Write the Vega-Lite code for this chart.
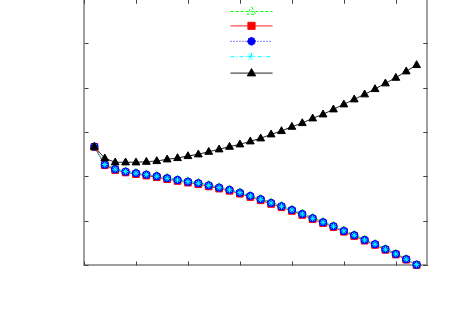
{
  "$schema": "https://vega.github.io/schema/vega-lite/v6.json",
  "width": 343,
  "height": 266,
  "autosize": {"type": "none"},
  "padding": {"left": 84, "right": 23, "top": -1, "bottom": 49},
  "background": "white",
  "config": {
    "view": {"stroke": "#808080", "strokeWidth": 1.5},
    "axis": {"grid": false, "labels": false, "title": null, "domain": false, "tickSize": -4, "tickColor": "#444", "tickWidth": 1}
  },
  "data": {"values": [
    {"x":1,"s":"s1","y":2.675},{"x":2,"s":"s1","y":2.275},{"x":3,"s":"s1","y":2.172},{"x":4,"s":"s1","y":2.118},{"x":5,"s":"s1","y":2.082},{"x":6,"s":"s1","y":2.05},{"x":7,"s":"s1","y":2.014},{"x":8,"s":"s1","y":1.969},{"x":9,"s":"s1","y":1.93},{"x":10,"s":"s1","y":1.892},{"x":11,"s":"s1","y":1.856},{"x":12,"s":"s1","y":1.808},{"x":13,"s":"s1","y":1.758},{"x":14,"s":"s1","y":1.708},{"x":15,"s":"s1","y":1.643},{"x":16,"s":"s1","y":1.568},{"x":17,"s":"s1","y":1.495},{"x":18,"s":"s1","y":1.412},{"x":19,"s":"s1","y":1.337},{"x":20,"s":"s1","y":1.254},{"x":21,"s":"s1","y":1.163},{"x":22,"s":"s1","y":1.066},{"x":23,"s":"s1","y":0.976},{"x":24,"s":"s1","y":0.886},{"x":25,"s":"s1","y":0.78},{"x":26,"s":"s1","y":0.683},{"x":27,"s":"s1","y":0.577},{"x":28,"s":"s1","y":0.48},{"x":29,"s":"s1","y":0.366},{"x":30,"s":"s1","y":0.26},{"x":31,"s":"s1","y":0.14},{"x":32,"s":"s1","y":0.015},
    {"x":1,"s":"s2","y":2.665},{"x":2,"s":"s2","y":2.25},{"x":3,"s":"s2","y":2.142},{"x":4,"s":"s2","y":2.087},{"x":5,"s":"s2","y":2.05},{"x":6,"s":"s2","y":2.017},{"x":7,"s":"s2","y":1.98},{"x":8,"s":"s2","y":1.935},{"x":9,"s":"s2","y":1.896},{"x":10,"s":"s2","y":1.857},{"x":11,"s":"s2","y":1.821},{"x":12,"s":"s2","y":1.773},{"x":13,"s":"s2","y":1.723},{"x":14,"s":"s2","y":1.673},{"x":15,"s":"s2","y":1.608},{"x":16,"s":"s2","y":1.533},{"x":17,"s":"s2","y":1.46},{"x":18,"s":"s2","y":1.377},{"x":19,"s":"s2","y":1.302},{"x":20,"s":"s2","y":1.22},{"x":21,"s":"s2","y":1.129},{"x":22,"s":"s2","y":1.033},{"x":23,"s":"s2","y":0.944},{"x":24,"s":"s2","y":0.855},{"x":25,"s":"s2","y":0.75},{"x":26,"s":"s2","y":0.654},{"x":27,"s":"s2","y":0.549},{"x":28,"s":"s2","y":0.453},{"x":29,"s":"s2","y":0.342},{"x":30,"s":"s2","y":0.237},{"x":31,"s":"s2","y":0.12},{"x":32,"s":"s2","y":0.0},
    {"x":1,"s":"s3","y":2.669},{"x":2,"s":"s3","y":2.263},{"x":3,"s":"s3","y":2.159},{"x":4,"s":"s3","y":2.105},{"x":5,"s":"s3","y":2.069},{"x":6,"s":"s3","y":2.037},{"x":7,"s":"s3","y":2.001},{"x":8,"s":"s3","y":1.956},{"x":9,"s":"s3","y":1.917},{"x":10,"s":"s3","y":1.879},{"x":11,"s":"s3","y":1.843},{"x":12,"s":"s3","y":1.795},{"x":13,"s":"s3","y":1.745},{"x":14,"s":"s3","y":1.695},{"x":15,"s":"s3","y":1.63},{"x":16,"s":"s3","y":1.555},{"x":17,"s":"s3","y":1.482},{"x":18,"s":"s3","y":1.399},{"x":19,"s":"s3","y":1.324},{"x":20,"s":"s3","y":1.241},{"x":21,"s":"s3","y":1.15},{"x":22,"s":"s3","y":1.053},{"x":23,"s":"s3","y":0.963},{"x":24,"s":"s3","y":0.873},{"x":25,"s":"s3","y":0.767},{"x":26,"s":"s3","y":0.67},{"x":27,"s":"s3","y":0.564},{"x":28,"s":"s3","y":0.467},{"x":29,"s":"s3","y":0.354},{"x":30,"s":"s3","y":0.248},{"x":31,"s":"s3","y":0.129},{"x":32,"s":"s3","y":0.007},
    {"x":1,"s":"s4","y":2.669},{"x":2,"s":"s4","y":2.265},{"x":3,"s":"s4","y":2.16},{"x":4,"s":"s4","y":2.106},{"x":5,"s":"s4","y":2.07},{"x":6,"s":"s4","y":2.038},{"x":7,"s":"s4","y":2.002},{"x":8,"s":"s4","y":1.957},{"x":9,"s":"s4","y":1.918},{"x":10,"s":"s4","y":1.88},{"x":11,"s":"s4","y":1.844},{"x":12,"s":"s4","y":1.796},{"x":13,"s":"s4","y":1.746},{"x":14,"s":"s4","y":1.696},{"x":15,"s":"s4","y":1.631},{"x":16,"s":"s4","y":1.556},{"x":17,"s":"s4","y":1.483},{"x":18,"s":"s4","y":1.4},{"x":19,"s":"s4","y":1.325},{"x":20,"s":"s4","y":1.242},{"x":21,"s":"s4","y":1.151},{"x":22,"s":"s4","y":1.054},{"x":23,"s":"s4","y":0.964},{"x":24,"s":"s4","y":0.874},{"x":25,"s":"s4","y":0.768},{"x":26,"s":"s4","y":0.671},{"x":27,"s":"s4","y":0.565},{"x":28,"s":"s4","y":0.468},{"x":29,"s":"s4","y":0.355},{"x":30,"s":"s4","y":0.249},{"x":31,"s":"s4","y":0.13},{"x":32,"s":"s4","y":0.008},
    {"x":1,"s":"s5","y":2.669},{"x":2,"s":"s5","y":2.407},{"x":3,"s":"s5","y":2.317},{"x":4,"s":"s5","y":2.317},{"x":5,"s":"s5","y":2.317},{"x":6,"s":"s5","y":2.33},{"x":7,"s":"s5","y":2.346},{"x":8,"s":"s5","y":2.384},{"x":9,"s":"s5","y":2.414},{"x":10,"s":"s5","y":2.459},{"x":11,"s":"s5","y":2.497},{"x":12,"s":"s5","y":2.556},{"x":13,"s":"s5","y":2.61},{"x":14,"s":"s5","y":2.669},{"x":15,"s":"s5","y":2.723},{"x":16,"s":"s5","y":2.79},{"x":17,"s":"s5","y":2.858},{"x":18,"s":"s5","y":2.948},{"x":19,"s":"s5","y":3.023},{"x":20,"s":"s5","y":3.12},{"x":21,"s":"s5","y":3.203},{"x":22,"s":"s5","y":3.309},{"x":23,"s":"s5","y":3.399},{"x":24,"s":"s5","y":3.512},{"x":25,"s":"s5","y":3.625},{"x":26,"s":"s5","y":3.738},{"x":27,"s":"s5","y":3.851},{"x":28,"s":"s5","y":3.97},{"x":29,"s":"s5","y":4.099},{"x":30,"s":"s5","y":4.225},{"x":31,"s":"s5","y":4.369},{"x":32,"s":"s5","y":4.512}
  ]},
  "layer": [
    {
      "mark": {"type": "line", "strokeWidth": 1},
      "encoding": {
        "x": {"field": "x", "type": "quantitative", "scale": {"domain": [0, 33], "nice": false, "zero": false}, "axis": {"orient": "bottom", "values": [0,5,10,15,20,25,30]}},
        "y": {"field": "y", "type": "quantitative", "scale": {"domain": [0, 6], "nice": false}, "axis": {"orient": "left", "values": [0,1,2,3,4,5,6]}},
        "color": {"field": "s", "type": "nominal", "scale": {"range": ["#00ff00","#ff0000","#0000ff","#00ffff","#000000"]}, "legend": null},
        "strokeDash": {"field": "s", "type": "nominal",
          "scale": {"domain": ["s1","s2","s3","s4","s5"], "range": [[3,2],[1,0],[1,2],[4,2,1,2],[1,0]]},
          "legend": {
            "orient": "none", "legendX": 163, "legendY": 8, "title": null, "padding": 0,
            "labelExpr": "''", "labelFontSize": 1, "rowPadding": 2.4,
            "encode": {"symbols": {"update": {
              "shape": {"signal": "datum.value==='s1'?'M-5.25,0H5.25M0,-1.15L1.05,0.7H-1.05Z':datum.value==='s2'?'M-5.25,0H5.25M-0.9,-0.9H0.9V0.9H-0.9Z':datum.value==='s3'?'M-5.25,0H5.25M-1,0A1,1 0 1,0 1,0A1,1 0 1,0 -1,0Z':datum.value==='s4'?'M-5.25,0H5.25M-1,0H1M0,-1V1M-0.75,-0.75L0.75,0.75M-0.75,0.75L0.75,-0.75':'M-5.25,0H5.25M0,-1.15L1.05,0.7H-1.05Z'"},
              "size": {"value": 64},
              "stroke": {"signal": "datum.value==='s1'?'#00ff00':datum.value==='s2'?'#ff0000':datum.value==='s3'?'#0000ff':datum.value==='s4'?'#00ffff':'#000000'"},
              "fill": {"signal": "datum.value==='s1'?'transparent':datum.value==='s2'?'#ff0000':datum.value==='s3'?'#0000ff':datum.value==='s4'?'transparent':'#000000'"},
              "strokeWidth": {"value": 1},
              "opacity": {"value": 1}
            }}}
          }
        }
      }
    },
    {
      "mark": {"type": "point", "size": 55, "strokeWidth": 1, "opacity": 1},
      "encoding": {
        "x": {"field": "x", "type": "quantitative"},
        "y": {"field": "y", "type": "quantitative"},
        "stroke": {"field": "s", "type": "nominal", "scale": {"range": ["#00ff00","#ff0000","#0000ff","#00ffff","#000000"]}, "legend": null},
        "fill": {"field": "s", "type": "nominal", "scale": {"range": ["transparent","#ff0000","#0000ff","transparent","#000000"]}, "legend": null},
        "shape": {"field": "s", "type": "nominal",
          "scale": {"range": ["M0,-1.15L1.05,0.7H-1.05Z","M-0.9,-0.9H0.9V0.9H-0.9Z","circle","M-0.8,0H0.8M0,-0.8V0.8M-0.6,-0.6L0.6,0.6M-0.6,0.6L0.6,-0.6","M0,-1.15L1.05,0.7H-1.05Z"]},
          "legend": null
        }
      }
    },
    {
      "mark": {"type": "point", "opacity": 0},
      "encoding": {
        "x": {"field": "x", "type": "quantitative", "axis": {"orient": "top", "values": [0,5,10,15,20,25,30]}},
        "y": {"field": "y", "type": "quantitative", "axis": {"orient": "right", "values": [0,1,2,3,4,5,6]}}
      }
    }
  ]
}
